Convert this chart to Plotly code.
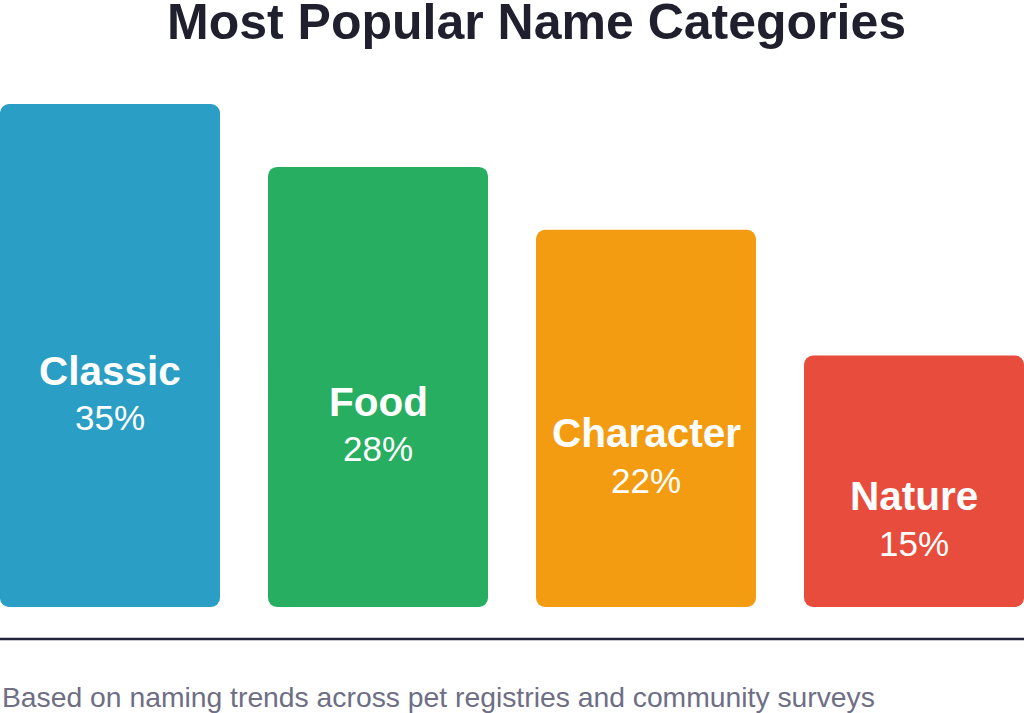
import plotly.graph_objects as go

categories = ["Classic", "Food", "Character", "Nature"]
shares = [35, 28, 22, 15]
bar_heights = [8, 7, 6, 4]  # relative bar heights
colors = ["#2a9ec4", "#27ae60", "#f39c12", "#e74c3c"]

title_text = "Most Popular Name Categories"
footnote = "Based on naming trends across pet registries and community surveys"

W, H = 1024, 713
top_px, base_px = 60, 607
plot_h = base_px - top_px
px_per_unit = 62.875
ymax = plot_h / px_per_unit
def py(pix):
    return (base_px - pix) / plot_h

xs = list(range(len(categories)))
upper_base = [h * 0.45 for h in bar_heights]
upper_len = [h * 0.55 for h in bar_heights]
lower_base = [h * 0.55 for h in bar_heights]
lower_len = [-h * 0.55 for h in bar_heights]

fig = go.Figure()
fig.add_trace(go.Bar(x=xs, y=upper_len, base=upper_base, width=0.8209,
                     marker=dict(color=colors, line=dict(width=0), cornerradius=9),
                     hoverinfo="skip", showlegend=False))
fig.add_trace(go.Bar(x=xs, y=lower_len, base=lower_base, width=0.8209,
                     marker=dict(color=colors, line=dict(width=0), cornerradius=9),
                     hoverinfo="skip", showlegend=False))

FONT = "Liberation Sans, Arial, sans-serif"
annotations = []
for i, (c, s, h) in enumerate(zip(categories, shares, bar_heights)):
    annotations.append(dict(x=i, y=h / 2, xref="x", yref="y", text=f"<b>{c}</b>",
                            showarrow=False, yshift=-15,
                            font=dict(family=FONT, size=40.5, color="white")))
    annotations.append(dict(x=i, y=h / 2, xref="x", yref="y", text=f"{s}%",
                            showarrow=False, yshift=-62,
                            font=dict(family=FONT, size=35, color="white")))

annotations.append(dict(x=536 / W, y=py(22), xref="paper", yref="paper", text=f"<b>{title_text}</b>",
                        showarrow=False, xanchor="center", yanchor="middle",
                        font=dict(family=FONT, size=50, color="#1f1f2e")))
annotations.append(dict(x=0, y=py(697), xref="paper", yref="paper", text=footnote,
                        showarrow=False, xanchor="left", yanchor="middle",
                        font=dict(family=FONT, size=28.3, color="#6e6e85")))

fig.update_layout(
    width=W, height=H,
    margin=dict(l=0, r=0, t=top_px, b=H - base_px, pad=0),
    paper_bgcolor="white", plot_bgcolor="white",
    barmode="overlay",
    xaxis=dict(range=[-0.4104, 3.4104], visible=False, fixedrange=True),
    yaxis=dict(range=[0, ymax], visible=False, fixedrange=True),
    annotations=annotations,
    shapes=[dict(type="line", xref="paper", yref="paper", x0=0, x1=1,
                 y0=py(639), y1=py(639), line=dict(color="#22223a", width=2.5))],
)

fig.write_html("out.html", config={"displayModeBar": False},
               post_script="document.body.style.margin='0';document.body.style.overflow='hidden';")
